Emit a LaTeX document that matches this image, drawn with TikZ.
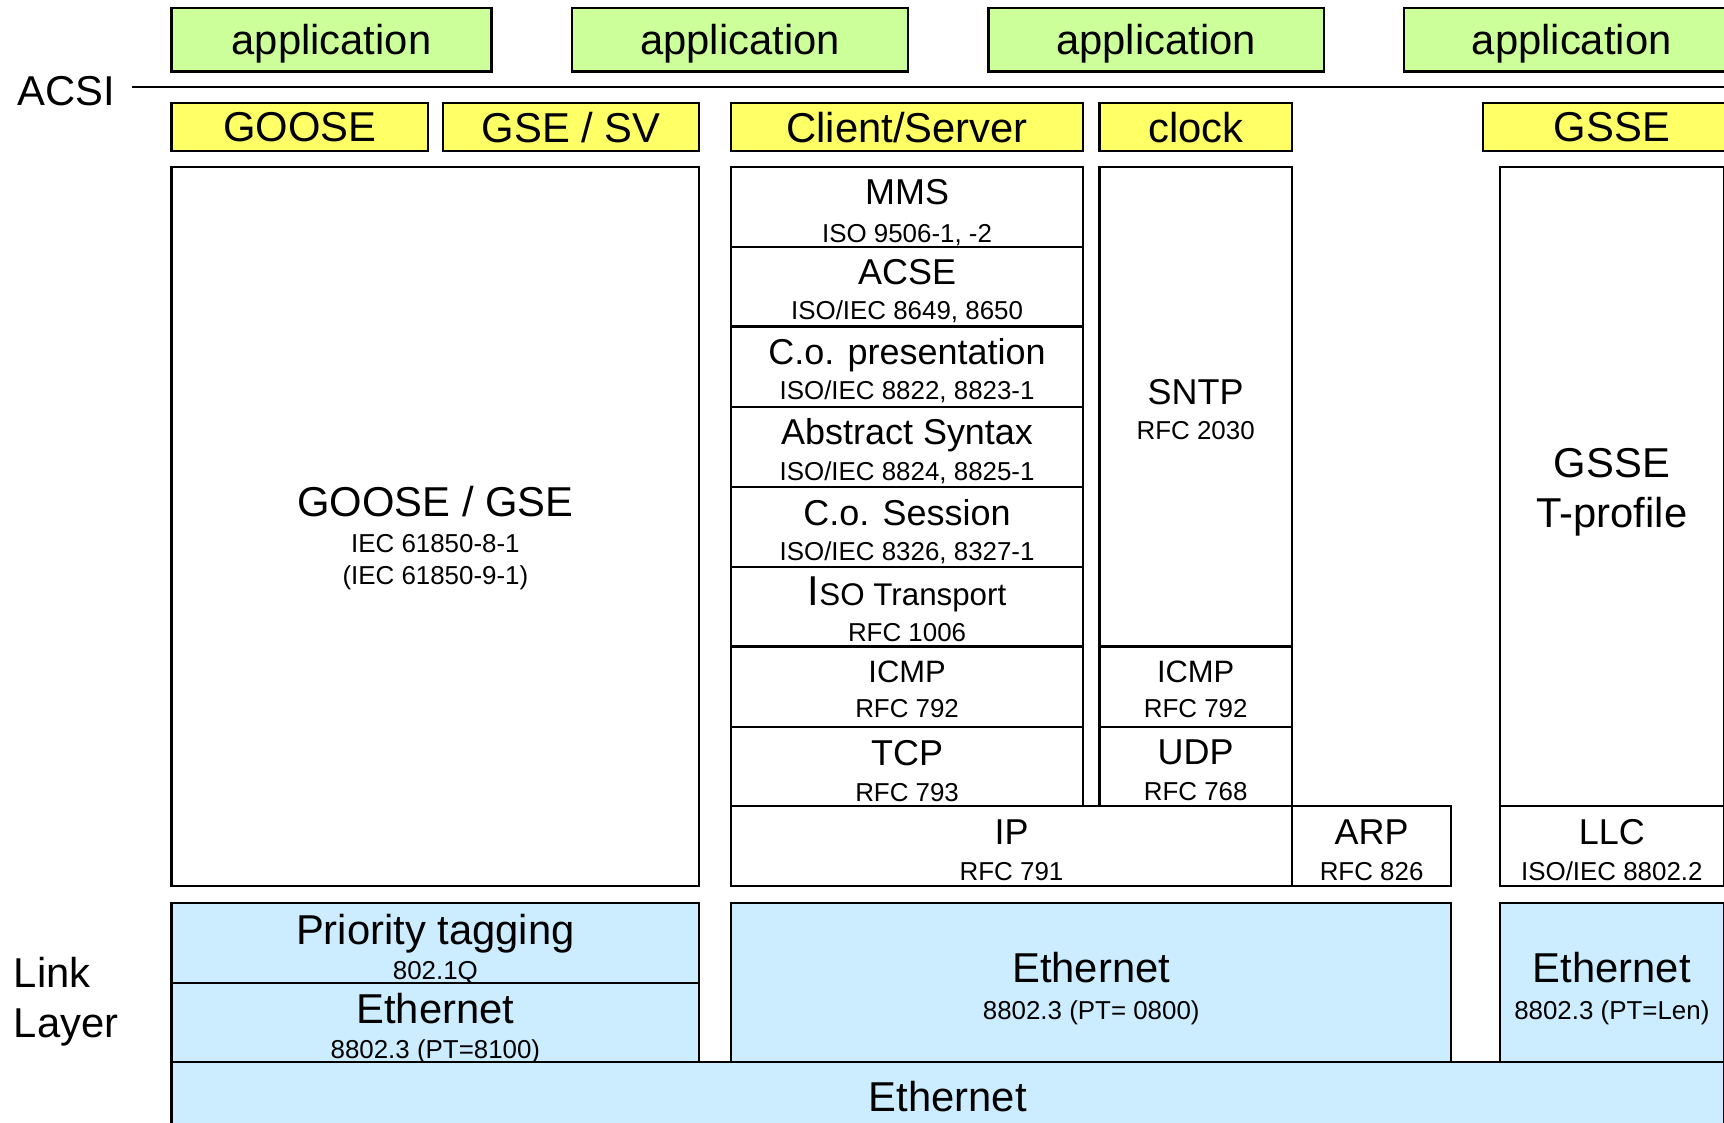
\documentclass[tikz,border=0pt]{standalone}
\usepackage{fontspec}
\setmainfont{Liberation Sans}

\definecolor{appgreen}{RGB}{204,255,153}
\definecolor{svcyellow}{RGB}{255,255,102}
\definecolor{linkblue}{RGB}{204,236,255}

\newcommand{\bigtxt}{\fontsize{10.8}{13.1}\selectfont}
\newcommand{\midtxt}{\fontsize{9.3}{11}\selectfont}
\newcommand{\isotxt}{\fontsize{8.1}{10}\selectfont}
\newcommand{\icmptxt}{\fontsize{8.0}{10}\selectfont}
\newcommand{\smalltxt}{\fontsize{6.7}{8.3}\selectfont}
\newcommand{\dropamt}{0pt}

% box from (x1,y1) to (x2,y2), its text set a little lower
\newcommand{\layer}[7]{%
	\node[#6, minimum width={(#4-#2)*0.01cm}, minimum height={(#5-#3)*0.01cm}] (#1) at ({(#2+#4)/2},{(#3+#5)/2}) {};
	\node[#6, draw=none, fill=none, yshift=-\dropamt] (#1txt) at (#1.center) {#7};}

\tikzset{
	drop/.store in=\dropamt,
	layer/.style={draw, line width=0.55pt, inner sep=0pt, outer sep=0pt, align=center, font=\smalltxt, drop=0pt},
	app/.style={layer, fill=appgreen, font=\bigtxt, text depth=0pt},
	svc/.style={layer, fill=svcyellow, font=\bigtxt, text depth=0pt},
	proto/.style={layer, fill=white, drop=1.1pt},
	link/.style={layer, fill=linkblue, drop=1.6pt},
	side/.style={inner sep=0pt, anchor=west, align=left, font=\bigtxt}
}

\begin{document}
\begin{tikzpicture}[x=0.01cm,y=-0.01cm]
		\useasboundingbox (0,0) rectangle (1568,1021);
		% applications and ACSI
		\foreach \n/\a/\b in {1/156/447, 2/520/826, 3/899/1204, 4/1277/1582}
			\layer{app\n}{\a}{7}{\b}{65}{app}{application};
		\node[side] (acsi) at (15,83) {ACSI};
		\coordinate (acsiL) at (120,79);
		\coordinate (acsiR) at (1580,79);
		\draw[line width=0.55pt] (acsiL) -- (acsiR);
		% services
		\layer{goose}{156}{94}{389}{137}{svc}{GOOSE}
		\layer{gsesv}{403}{94}{636}{137}{svc}{GSE / SV}
		\layer{clsrv}{665}{94}{985}{137}{svc}{Client/Server}
		\layer{clock}{1000}{94}{1175}{137}{svc}{clock}
		\layer{gsse}{1349}{94}{1583}{137}{svc}{GSSE}
		% stacks
		\layer{gooseblk}{156}{152}{636}{806}{proto, drop=2.85pt}{{\bigtxt GOOSE / GSE}\\[1pt]IEC 61850-8-1\\(IEC 61850-9-1)}
		\layer{mms}{665}{152}{985}{225}{proto, drop=1.3pt}{{\midtxt MMS}\\[1.5pt]ISO 9506-1, -2}
		\layer{acse}{665}{225}{985}{297}{proto}{{\midtxt ACSE}\\[0.8pt]ISO/IEC 8649, 8650}
		\layer{pres}{665}{297}{985}{370}{proto}{{\midtxt C.o. presentation}\\[0.8pt]ISO/IEC 8822, 8823-1}
		\layer{asn}{665}{370}{985}{443}{proto}{{\midtxt Abstract Syntax}\\[0.8pt]ISO/IEC 8824, 8825-1}
		\layer{sess}{665}{443}{985}{516}{proto}{{\midtxt C.o. Session}\\[0.8pt]ISO/IEC 8326, 8327-1}
		\layer{trans}{665}{516}{985}{588}{proto, drop=0.5pt}{{\bigtxt I}{\isotxt SO Transport}\\[1pt]RFC 1006}
		\layer{icmpa}{665}{588}{985}{661}{proto, drop=0.7pt}{{\icmptxt ICMP}\\[0.5pt]RFC 792}
		\layer{tcp}{665}{661}{985}{733}{proto}{{\midtxt TCP}\\[1pt]RFC 793}
		\layer{sntp}{1000}{152}{1175}{588}{proto, drop=0.7pt}{{\midtxt SNTP}\\[0.6pt]RFC 2030}
		\layer{icmpb}{1000}{588}{1175}{661}{proto, drop=0.7pt}{{\icmptxt ICMP}\\[0.5pt]RFC 792}
		\layer{udp}{1000}{661}{1175}{733}{proto}{{\midtxt UDP}\\[1pt]RFC 768}
		\layer{ip}{665}{733}{1175}{806}{proto}{{\midtxt IP}\\[1pt]RFC 791}
		\layer{arp}{1175}{733}{1320}{806}{proto}{{\midtxt ARP}\\[1pt]RFC 826}
		\layer{tprof}{1364}{152}{1568}{733}{proto, font=\bigtxt, drop=1.5pt}{GSSE\\T-profile}
		\layer{llc}{1364}{733}{1568}{806}{proto, drop=1pt}{{\midtxt LLC}\\[1pt]ISO/IEC 8802.2}
		% link layer
		\node[side] (linklayer) at (12,911) {Link\\Layer};
		\layer{prio}{156}{821}{636}{894}{link}{{\bigtxt Priority tagging}\\[0.8pt]802.1Q}
		\layer{ethl}{156}{894}{636}{966}{link}{{\bigtxt Ethernet}\\[0.9pt]8802.3 (PT=8100)}
		\layer{ethm}{665}{821}{1320}{966}{link}{{\bigtxt Ethernet}\\[1.1pt]8802.3 (PT= 0800)}
		\layer{ethr}{1364}{821}{1568}{966}{link}{{\bigtxt Ethernet}\\[1.1pt]8802.3 (PT=Len)}
		\layer{ethb}{156}{966}{1568}{1028}{link, font=\bigtxt, text depth=0pt, drop=0pt}{Ethernet}
\end{tikzpicture}
\end{document}
